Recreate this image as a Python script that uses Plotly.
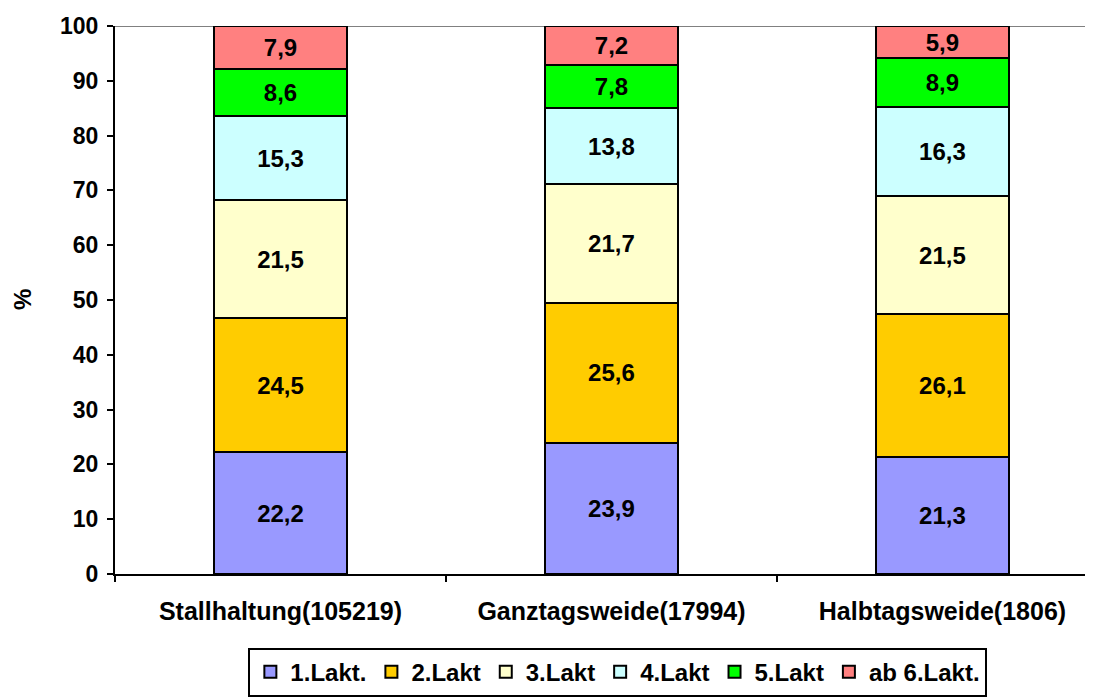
import plotly.graph_objects as go

haltung = ['Stallhaltung(105219)', 'Ganztagsweide(17994)', 'Halbtagsweide(1806)']
laktationen = ['1.Lakt.', '2.Lakt', '3.Lakt', '4.Lakt', '5.Lakt', 'ab 6.Lakt.']
anteile = [
    [22.2, 23.9, 21.3],
    [24.5, 25.6, 26.1],
    [21.5, 21.7, 21.5],
    [15.3, 13.8, 16.3],
    [8.6, 7.8, 8.9],
    [7.9, 7.2, 5.9],
]
farben = ['#9999FF', '#FFCC00', '#FFFFCC', '#CCFFFF', '#00FF00', '#FF8080']

schrift = 'Arial, Liberation Sans, sans-serif'

fig = go.Figure()
for name, werte, farbe in zip(laktationen, anteile, farben):
    fig.add_trace(go.Bar(x=haltung, y=werte, name=name,
                         marker=dict(color=farbe, line=dict(color='black', width=2)),
                         text=[f'{w:.1f}'.replace('.', ',') for w in werte],
                         textposition='inside', insidetextanchor='middle',
                         textangle=0, constraintext='none',
                         textfont=dict(family=schrift, size=24, color='black', weight='bold')))

# die Seite hat 8px Rand, deshalb alles um 8px nach links/oben verschoben
fig.update_layout(
    barmode='stack', bargap=0.6,
    width=1093, height=700,
    plot_bgcolor='white', paper_bgcolor='white',
    margin=dict(l=107, r=0, t=18, b=134, autoexpand=False),
    font=dict(family=schrift, color='black'),
    xaxis=dict(range=[-0.5, 2.479], tickson='boundaries', ticks='outside', ticklen=6,
               tickwidth=2, tickcolor='black', showline=True, linecolor='black', linewidth=2,
               tickfont=dict(size=25, weight='bold'), showgrid=False, automargin=False,
               ticklabelstandoff=14),
    yaxis=dict(range=[0, 100], dtick=10, ticks='outside', ticklen=6, tickwidth=2,
               tickcolor='black', showline=True, linecolor='black', linewidth=2,
               showgrid=False, zeroline=False, automargin=False,
               tickfont=dict(size=23, weight='bold'), ticklabelstandoff=4),
    legend=dict(orientation='h', x=0.51, xanchor='center', y=-0.224, yanchor='bottom',
                bordercolor='black', borderwidth=2,
                font=dict(size=24, weight='bold'), traceorder='normal'),
    showlegend=True,
)
fig.add_annotation(text='%', xref='paper', yref='paper', x=-0.0943, y=0.5,
                   xanchor='center', yanchor='middle',
                   textangle=-90, showarrow=False,
                   font=dict(size=24, weight='bold'))
fig.add_shape(type='line', xref='paper', yref='y', x0=0, x1=1, y0=100, y1=100,
              line=dict(color='#808080', width=2), layer='below')

fig.write_html('out.html')
